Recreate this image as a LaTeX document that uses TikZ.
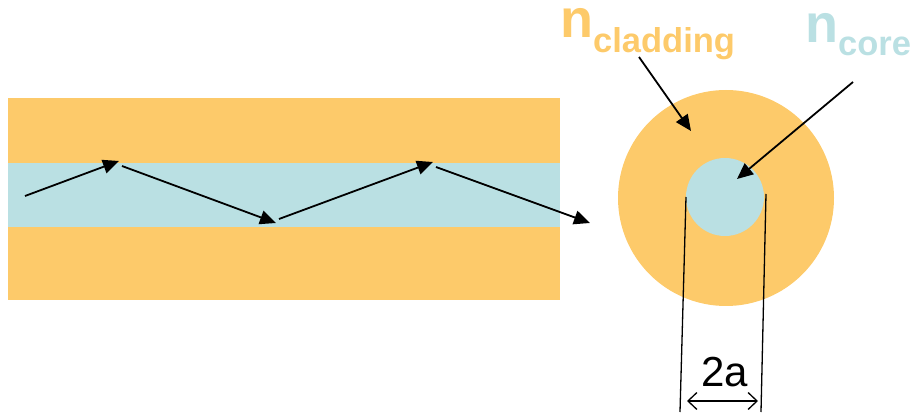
\documentclass[tikz,border=0pt]{standalone}
\usepackage{fontspec}
\setmainfont{Liberation Sans}
\usetikzlibrary{arrows.meta}
\definecolor{clad}{RGB}{253,202,106}
\definecolor{core}{RGB}{186,224,227}
\tikzset{
  ray/.style={line width=1.8pt, -{Triangle[length=16pt,width=14pt]}},
  pointer/.style={line width=1.8pt, -{Triangle[length=16pt,width=14pt]}},
  dimline/.style={line width=1.3pt},
  dimarrow/.style={line width=1.3pt, {Straight Barb[length=9pt,width=17pt]}-{Straight Barb[length=9pt,width=17pt]}},
  lbl/.style={inner sep=0pt, font=\bfseries},
}
\begin{document}
\begin{tikzpicture}[x=1pt,y=-1pt]
\useasboundingbox (0,0) rectangle (914,414);
% fibre seen from the side: cladding bands around the core
\fill[clad] (8,98) rectangle (560,300);
\fill[core] (8,163) rectangle (560,227);
% cross-section
\fill[clad] (726,198) circle (108);
\fill[core] (725,197) circle (39);

% zig-zag ray guided through the core
\coordinate (r0) at (25,196);
\coordinate (r1) at (119,161);
\coordinate (r1s) at (122,166);
\coordinate (r2) at (276,223);
\coordinate (r2s) at (279,219);
\coordinate (r3) at (433,162);
\coordinate (r3s) at (436,167);
\coordinate (r4) at (590,223);
\draw[ray] (r0) -- (r1);
\draw[ray] (r1s) -- (r2);
\draw[ray] (r2s) -- (r3);
\draw[ray] (r3s) -- (r4);

% refractive index labels
\node[lbl, anchor=base west, text=clad] (ncl) at (560,38)
  {\fontsize{54}{54}\selectfont n\raisebox{-15pt}{\fontsize{34.5}{34.5}\selectfont cladding}};
\node[lbl, anchor=base west, text=core] (nco) at (805,43)
  {\fontsize{54}{54}\selectfont n\raisebox{-13pt}{\fontsize{34.5}{34.5}\selectfont core}};
\coordinate (pcl0) at (639,57);
\coordinate (pcl1) at (691,131);
\coordinate (pco0) at (853,82);
\coordinate (pco1) at (737,179);
\draw[pointer] (pcl0) -- (pcl1);
\draw[pointer] (pco0) -- (pco1);

% core diameter
\coordinate (dl0) at (686,197);
\coordinate (dl1) at (680,412);
\coordinate (dr0) at (766,194);
\coordinate (dr1) at (761,412);
\draw[dimline] (dl0) -- (dl1);
\draw[dimline] (dr0) -- (dr1);
\coordinate (da0) at (687,401);
\coordinate (da1) at (758,401);
\draw[dimarrow] (da0) -- (da1);
\node[inner sep=0pt, anchor=base, font=\fontsize{42}{42}\selectfont] (dia) at (725,387) {2a};
\end{tikzpicture}
\end{document}
